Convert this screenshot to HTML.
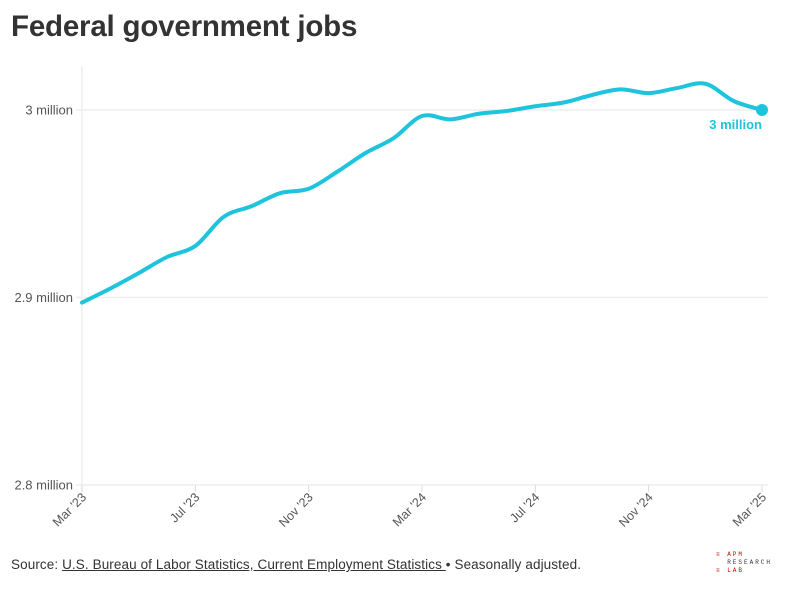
<!DOCTYPE html>
<html><head><meta charset="utf-8"><style>
body{margin:0;background:#fff;width:794px;height:590px;overflow:hidden;font-family:"Liberation Sans",sans-serif}
#title{position:absolute;left:11px;top:10px;font-size:29.5px;font-weight:bold;color:#333;letter-spacing:-0.2px}
#src{position:absolute;left:11px;top:557px;font-size:13.5px;color:#333;letter-spacing:0.1px}
#src u{color:#333}
</style></head><body>
<div id="title">Federal government jobs</div>
<svg id="chart" width="794" height="590" style="position:absolute;left:0;top:0"></svg>
<div id="src">Source: <u>U.S. Bureau of Labor Statistics, Current Employment Statistics </u> • Seasonally adjusted.</div>
<div style="position:absolute;left:716px;top:551px;font-size:6px;line-height:8px;letter-spacing:2px;color:#333;font-family:'Liberation Mono',monospace">
<span style="color:#c00">≡ APM</span><br>&nbsp;&nbsp;RESEARCH<br><span style="color:#c00">≡ LAB</span></div>
<script>
const months=["Mar '23","Apr '23","May '23","Jun '23","Jul '23","Aug '23","Sep '23","Oct '23","Nov '23","Dec '23","Jan '24","Feb '24","Mar '24","Apr '24","May '24","Jun '24","Jul '24","Aug '24","Sep '24","Oct '24","Nov '24","Dec '24","Jan '25","Feb '25","Mar '25"];
const values=[2.8973,2.9048,2.913,2.9216,2.9275,2.943,2.9488,2.9557,2.958,2.967,2.977,2.985,2.9968,2.995,2.998,2.9995,3.002,3.004,3.008,3.011,3.009,3.0117,3.014,3.0048,3.0];
const yTicks=[2.8,2.9,3.0];
const yTickLabels=["2.8 million","2.9 million","3 million"];
const xTickIdx=[0,4,8,12,16,20,24];
const NS="http://www.w3.org/2000/svg";
const svg=document.getElementById('chart');
const x0=82,x1=762,yTop=110,yBot=485;
const xs=i=>x0+(x1-x0)*i/(months.length-1);
const ys=v=>yBot-(v-2.8)/(3.0-2.8)*(yBot-yTop);
function mk(t,a){const e=document.createElementNS(NS,t);for(const k in a)e.setAttribute(k,a[k]);svg.appendChild(e);return e;}
let e=mk('line',{x1:x0,x2:x0,y1:66,y2:492,stroke:'#eee','stroke-width':1.5});

yTicks.forEach((t,i)=>{
 let g=mk('line',{x1:76,x2:768,y1:ys(t),y2:ys(t),stroke:'#eee','stroke-width':1.5});
 
 let l=mk('text',{x:73,y:ys(t)+4.5,'text-anchor':'end','font-size':13,fill:'#555'});l.textContent=yTickLabels[i];
 
});
xTickIdx.forEach(i=>{
 const x=xs(i);
 let t=mk('line',{x1:x,x2:x,y1:485,y2:492,stroke:'#ddd','stroke-width':1});
 
 let l=mk('text',{x:x+5,y:498,'text-anchor':'end','font-size':12.5,fill:'#555',transform:`rotate(-45 ${x+5} 498)`});l.textContent=months[i];
 
});
const pts=values.map((v,i)=>[xs(i),ys(v)]);
let d=`M${pts[0][0]},${pts[0][1]}`;
for(let i=0;i<pts.length-1;i++){
 const p0=pts[Math.max(0,i-1)],p1=pts[i],p2=pts[i+1],p3=pts[Math.min(pts.length-1,i+2)];
 const c1=[p1[0]+(p2[0]-p0[0])/6,p1[1]+(p2[1]-p0[1])/6],c2=[p2[0]-(p3[0]-p1[0])/6,p2[1]-(p3[1]-p1[1])/6];
 d+=` C${c1[0]},${c1[1]} ${c2[0]},${c2[1]} ${p2[0]},${p2[1]}`;
}
let line=mk('path',{d:d,fill:'none',stroke:'#1ec3dc','stroke-width':4,'stroke-linecap':'round','stroke-linejoin':'round'});

const last=pts[pts.length-1];
let dot=mk('circle',{cx:last[0],cy:last[1],r:6,fill:'#1ec3dc'});

let lab=mk('text',{x:762,y:last[1]+19,'text-anchor':'end','font-size':13,'font-weight':'bold',fill:'#1ec3dc'});
lab.textContent=(values[values.length-1]).toFixed(0)+" million";

</script>
</body></html>
